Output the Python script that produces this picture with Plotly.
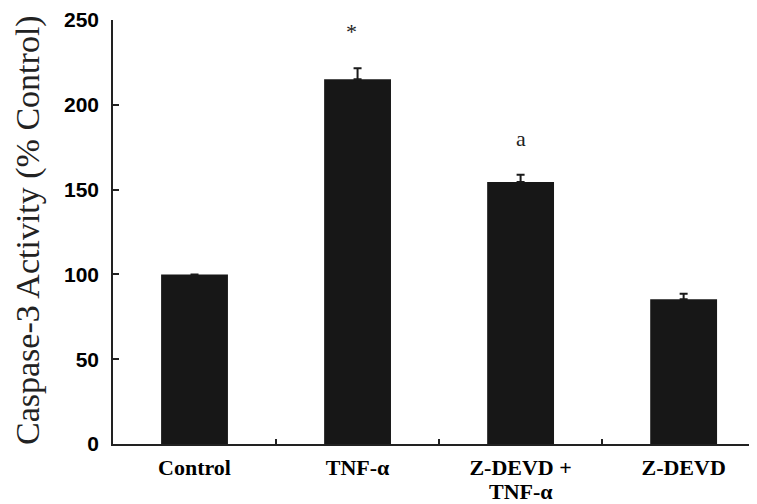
import plotly.graph_objects as go

categories = ["Control", "TNF-α", "Z-DEVD + TNF-α", "Z-DEVD"]
tick_line1 = ["Control", "TNF-α", "Z-DEVD +", "Z-DEVD"]
values = [100, 215, 154.5, 85.3]
errors = [None, 6.5, 4.3, 3.3]
y_ticks = [0, 50, 100, 150, 200, 250]
marks = [("TNF-α", 243, "*", -6), ("Z-DEVD + TNF-α", 180, "a", 0)]

# the page body has an 8px default margin; size the figure so the plot lands in place
W, H = 749, 496

fig = go.Figure()
fig.add_trace(go.Bar(
    x=categories, y=values, width=0.41,
    marker=dict(color="#171717", line=dict(width=0)),
    error_y=dict(type="data", array=errors, symmetric=False, arrayminus=[0]*4,
                 color="#1a1a1a", thickness=2, width=4),
))

for cat, yv, txt, xs in marks:
    fig.add_annotation(x=cat, y=yv, text=txt, showarrow=False, xshift=xs,
                       font=dict(family="Liberation Serif", size=22, color="#222"))

# second line of the two-line tick label
fig.add_annotation(x="Z-DEVD + TNF-α", y=0, yref="y", text="TNF-α", showarrow=False,
                   yanchor="top", yshift=-33,
                   font=dict(family="Liberation Serif", size=22, color="black", weight="bold"))

fig.add_annotation(xref="paper", yref="paper", x=(28 - 113) / 644, y=(444 - 230) / 424,
                   text="Caspase-3 Activity (% Control)", textangle=-90, showarrow=False,
                   xanchor="center", yanchor="middle",
                   font=dict(family="Liberation Serif", size=34, color="#222"))

fig.update_layout(
    width=W, height=H,
    margin=dict(l=105, r=0, t=12, b=60),
    plot_bgcolor="white", paper_bgcolor="white",
    showlegend=False,
    xaxis=dict(
        type="category", categoryorder="array", categoryarray=categories,
        range=[-0.5, 3.45], tickson="boundaries", ticks="inside", ticklen=5,
        tickwidth=1.5, tickcolor="#222",
        tickvals=categories, ticktext=tick_line1,
        showline=True, linecolor="#222", linewidth=1.5, showgrid=False,
        tickfont=dict(family="Liberation Serif", size=22, color="black", weight="bold"),
        ticklabelstandoff=3,
    ),
    yaxis=dict(
        range=[0, 250], tickvals=y_ticks, ticks="inside", ticklen=6,
        tickwidth=1.5, tickcolor="#222",
        showline=True, linecolor="#222", linewidth=1.5, showgrid=False, zeroline=False,
        tickfont=dict(family="Liberation Sans", size=21, color="black", weight="bold"),
        ticklabelstandoff=8,
    ),
)

fig.write_html("out.html")
